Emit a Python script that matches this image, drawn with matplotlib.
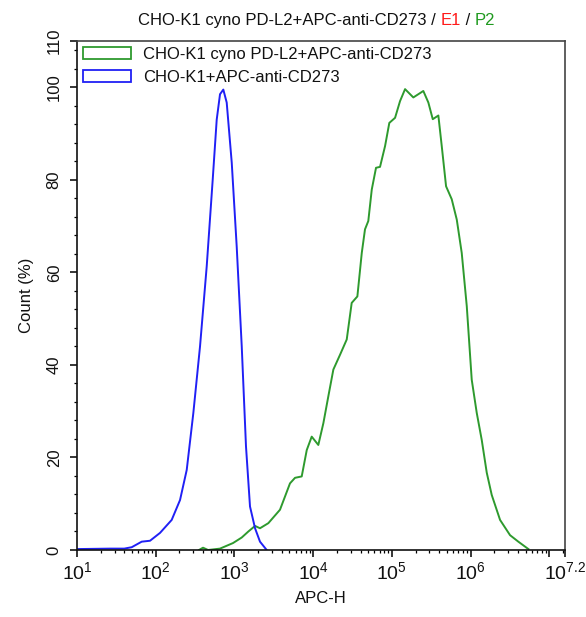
import numpy as np
import matplotlib
matplotlib.use("Agg")
import matplotlib.pyplot as plt
from matplotlib.patches import Patch
from matplotlib.ticker import MultipleLocator, FixedLocator, NullFormatter

plt.rcParams['font.family'] = ['Liberation Sans', 'DejaVu Sans']
plt.rcParams['mathtext.fontset'] = 'custom'
plt.rcParams['mathtext.rm'] = 'Liberation Sans'
plt.rcParams['mathtext.it'] = 'Liberation Sans'

# histogram traces: log10(APC-H) and Count (%)
blue_log = [1.0, 1.42, 1.6, 1.695, 1.822, 1.928, 2.055, 2.203, 2.309, 2.394, 2.478,
            2.563, 2.648, 2.724, 2.775, 2.817, 2.859, 2.902, 2.966, 3.029, 3.093,
            3.147, 3.198, 3.262, 3.325, 3.41]
blue_cnt = [0.2, 0.3, 0.3, 0.6, 1.8, 2.0, 3.7, 6.5, 10.8, 17.3, 29.6,
            44.0, 61.3, 80.0, 93.0, 98.5, 99.5, 96.7, 83.7, 65.6, 44.0,
            22.4, 9.4, 4.7, 1.8, 0.0]

green_log = [2.55, 2.601, 2.665, 2.817, 2.982, 3.093, 3.177, 3.262, 3.325, 3.431,
             3.579, 3.706, 3.770, 3.855, 3.919, 3.982, 4.066, 4.130, 4.193, 4.257,
             4.342, 4.427, 4.490, 4.562, 4.618, 4.659, 4.701, 4.745, 4.799, 4.850,
             4.914, 4.968, 5.041, 5.104, 5.168, 5.273, 5.400, 5.464, 5.520, 5.591,
             5.634, 5.689, 5.761, 5.825, 5.888, 5.952, 6.015, 6.079, 6.142, 6.206,
             6.269, 6.375, 6.502, 6.607, 6.735]
green_cnt = [0.0, 0.5, 0.0, 0.3, 1.5, 2.7, 4.0, 5.2, 4.7, 5.8,
             8.7, 14.4, 15.6, 15.9, 21.6, 24.5, 22.7, 27.4, 33.2, 39.0,
             42.2, 45.5, 53.4, 54.8, 64.2, 69.3, 71.1, 77.9, 82.6, 82.8,
             87.3, 92.3, 93.4, 97.0, 99.6, 97.8, 99.2, 96.7, 93.1, 93.9,
             87.3, 78.6, 75.8, 71.4, 64.2, 52.7, 36.8, 29.6, 23.8, 16.7,
             11.9, 6.5, 3.2, 1.8, 0.2]

tick_exp = [1, 2, 3, 4, 5, 6, 7, 7.2]
tick_lbl = ["$10^{1}$", "$10^{2}$", "$10^{3}$", "$10^{4}$", "$10^{5}$", "$10^{6}$", "", "$10^{7.2}$"]
y_ticks = [0, 20, 40, 60, 80, 100, 110]

green_name = "CHO-K1 cyno PD-L2+APC-anti-CD273"
blue_name = "CHO-K1+APC-anti-CD273"
title_parts = [("CHO-K1 cyno PD-L2+APC-anti-CD273 / ", "#111111"), ("E1", "#ff1a1a"),
               (" / ", "#111111"), ("P2", "#1f9a1f")]

c_blue = "#2020f5"
c_green = "#2e9a2e"

fig = plt.figure(figsize=(5.86, 6.17), dpi=100)
ax = fig.add_axes([77/586, 1-550/617, 488/586, 509/617])

ax.plot(10**np.array(green_log), green_cnt, color=c_green, lw=1.4, solid_joinstyle="round")
ax.plot(10**np.array(blue_log), blue_cnt, color=c_blue, lw=1.4, solid_joinstyle="round")

ax.set_xscale("log")
ax.set_xlim(10**1, 10**7.2)
ax.set_ylim(0, 110)

ax.xaxis.set_major_locator(FixedLocator([10**e for e in tick_exp]))
ax.set_xticklabels(tick_lbl, fontsize=14, color="#111111")
minors = [m*10**d for d in range(1, 7) for m in range(2, 10)] + [1.5e7]
ax.xaxis.set_minor_locator(FixedLocator(minors))
ax.xaxis.set_minor_formatter(NullFormatter())

ax.set_yticks(y_ticks)
ax.set_yticklabels([str(v) for v in y_ticks], rotation=90, va="center", fontsize=12, color="#111111")
ax.yaxis.set_minor_locator(MultipleLocator(4))

ax.tick_params(which="major", direction="out", length=5, width=1.1, pad=3)
ax.tick_params(axis="y", which="major", pad=6)
ax.tick_params(which="minor", direction="out", length=2.5, width=0.9)
for s in ax.spines.values():
    s.set_linewidth(1.2)
    s.set_color("#111111")
ax.spines["top"].set_color("#444444")
ax.spines["right"].set_color("#444444")

ax.set_xlabel("APC-H", fontsize=12, labelpad=6, color="#111111")
ax.set_ylabel("Count (%)", fontsize=12, labelpad=9, color="#111111")

handles = [Patch(facecolor="none", edgecolor=c_green, lw=1.3, label=green_name),
           Patch(facecolor="none", edgecolor=c_blue, lw=1.3, label=blue_name)]
leg = ax.legend(handles=handles, loc="upper left", frameon=False, fontsize=12,
                handlelength=2.9, handleheight=0.75, handletextpad=0.7,
                labelspacing=0.5, borderpad=0.35, borderaxespad=0)
for t in leg.get_texts():
    t.set_color("#111111")

# multi-coloured title, pieces laid side by side
fig.canvas.draw()
r = fig.canvas.get_renderer()
texts = []
for s, c in title_parts:
    texts.append(fig.text(0, 0, s, color=c, fontsize=12, transform=None, va="baseline"))
widths = [t.get_window_extent(r).width for t in texts]
x = 316.5 - sum(widths) / 2
for t, w in zip(texts, widths):
    t.set_position((x, 617 - 25))
    x += w

fig.savefig("out.png", dpi=100)
